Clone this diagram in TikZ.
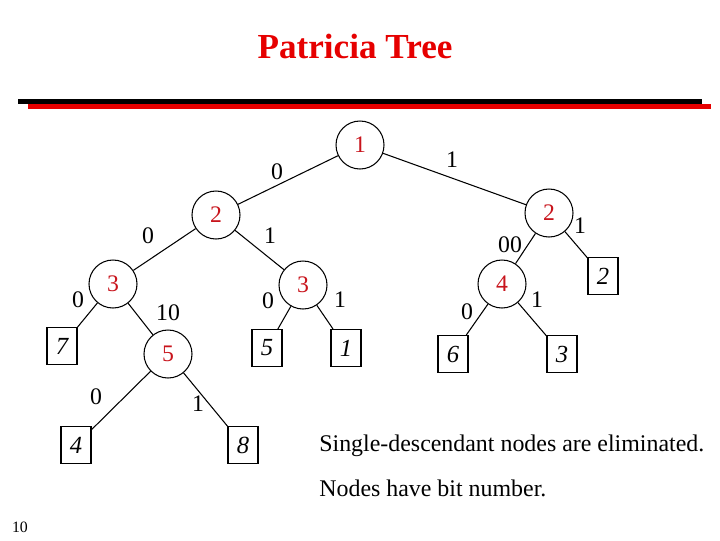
\documentclass[tikz,border=0pt]{standalone}
\usepackage{fontspec}
\setmainfont{Liberation Serif}
\usepackage{tikz}
\definecolor{titlered}{RGB}{230,0,0}
\definecolor{bitred}{RGB}{200,20,28}

\tikzset{
  bitnode/.style={circle, draw, line width=0.6pt, minimum size=0.96cm, inner sep=0pt,
    text=bitred, font=\fontsize{13.5}{15}\selectfont},
  keyleaf/.style={rectangle, draw, line width=0.6pt, minimum width=0.6cm, minimum height=0.74cm,
    inner sep=0pt, font=\fontsize{14}{16}\selectfont\itshape},
  branch/.style={line width=0.6pt},
  bitlabel/.style={font=\fontsize{13.5}{15}\selectfont, inner sep=0pt}
}

\begin{document}
\begin{tikzpicture}[x=0.2cm, y=-0.2cm]
\useasboundingbox (0,0) rectangle (72,54);

%% title
\node[text=titlered, font=\fontsize{20}{24}\selectfont\bfseries] (title) at (35.5,4.6) {Patricia Tree};
\fill[black] (1.8,9.9) rectangle (70.2,10.4);
\fill[titlered] (2.8,10.4) rectangle (71.1,10.9);

%% internal nodes
\node[bitnode] (n1) at (36,14.5) {1};
\node[bitnode] (n2) at (21.6,21.5) {2};
\node[bitnode] (m2) at (54.9,21.3) {2};
\node[bitnode] (n3) at (11.3,28.4) {3};
\node[bitnode] (m3) at (30.3,28.5) {3};
\node[bitnode] (n4) at (50.2,28.4) {4};
\node[bitnode] (n5) at (16.8,35.4) {5};

%% leaves
\node[keyleaf] (k7) at (6.2,34.6) {7};
\node[keyleaf] (k5) at (26.7,34.8) {5};
\node[keyleaf] (k1) at (34.6,34.8) {1};
\node[keyleaf] (k6) at (45.3,35.4) {6};
\node[keyleaf] (k3) at (56.2,35.4) {3};
\node[keyleaf] (k2) at (60.3,27.6) {2};
\node[keyleaf] (k4) at (7.6,44.5) {4};
\node[keyleaf] (k8) at (24.3,44.5) {8};

%% branches
\draw[branch] (n1) -- (n2);
\draw[branch] (n1) -- (m2);
\draw[branch] (n2) -- (n3);
\draw[branch] (n2) -- (m3);
\draw[branch] (n3) -- (k7);
\draw[branch] (n3) -- (n5);
\draw[branch] (n5) -- (k4);
\draw[branch] (n5) -- (k8);
\draw[branch] (m3) -- (k5);
\draw[branch] (m3) -- (k1);
\draw[branch] (m2) -- (n4);
\draw[branch] (m2) -- (k2);
\draw[branch] (n4) -- (k6);
\draw[branch] (n4) -- (k3);

%% branch bits
\node[bitlabel] (b1) at (27.7,17.2) {0};
\node[bitlabel] (b2) at (45.2,16.0) {1};
\node[bitlabel] (b3) at (14.8,23.6) {0};
\node[bitlabel] (b4) at (27.0,23.6) {1};
\node[bitlabel] (b5) at (51.0,24.5) {00};
\node[bitlabel] (b6) at (58.0,22.6) {1};
\node[bitlabel] (b7) at (7.8,30.0) {0};
\node[bitlabel] (b8) at (16.8,31.3) {10};
\node[bitlabel] (b9) at (26.8,30.1) {0};
\node[bitlabel] (b10) at (34.0,30.0) {1};
\node[bitlabel] (b11) at (46.7,31.2) {0};
\node[bitlabel] (b12) at (53.7,30.0) {1};
\node[bitlabel] (b13) at (9.6,39.7) {0};
\node[bitlabel] (b14) at (19.8,40.4) {1};

%% remarks
\node[anchor=base west, inner sep=0pt, font=\fontsize{13.6}{16}\selectfont] (note1) at (31.9,45.1) {Single-descendant nodes are eliminated.};
\node[anchor=base west, inner sep=0pt, font=\fontsize{13.6}{16}\selectfont] (note2) at (31.9,49.6) {Nodes have bit number.};
\node[font=\fontsize{9}{10}\selectfont] (page) at (2.0,52.7) {10};
\end{tikzpicture}
\end{document}
